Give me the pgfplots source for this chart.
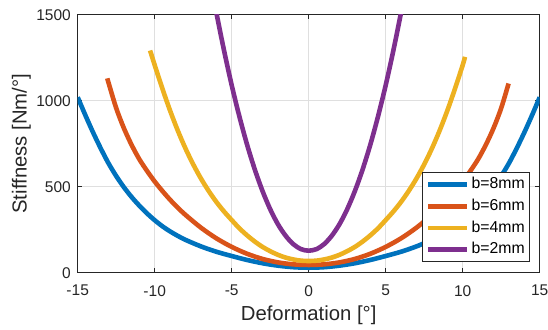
\documentclass[border=0pt]{standalone}
\usepackage{fontspec}
\setmainfont{Liberation Sans}
\usepackage{pgfplots}
\pgfplotsset{compat=1.18}
\definecolor{mblue}{rgb}{0,0.447,0.741}
\definecolor{morange}{rgb}{0.85,0.325,0.098}
\definecolor{myellow}{rgb}{0.929,0.694,0.125}
\definecolor{mpurple}{rgb}{0.494,0.184,0.556}
\definecolor{axgray}{rgb}{0.15,0.15,0.15}
\definecolor{gridgray}{rgb}{0.875,0.875,0.875}
\begin{document}
\begin{tikzpicture}
\begin{axis}[
  name=ax,
  scale only axis,
  width=462pt, height=258pt,
  xmin=-15, xmax=15, ymin=0, ymax=1500,
  xtick={-15,-10,-5,0,5,10,15},
  xticklabels={-15,-10,-5,0,5,10,15},
  ytick={0,500,1000,1500},
  yticklabels={0,500,1000,1500},
  tick align=inside,
  major tick length=4.6pt,
  grid=major,
  major grid style={gridgray, line width=0.6pt},
  axis line style={axgray, line width=0.6pt},
  every tick/.style={axgray, line width=0.6pt},
  tick label style={font=\fontsize{15.5}{18}\selectfont, text=axgray},
  xticklabel style={inner sep=0pt, anchor=north, yshift=-12.3pt},
  yticklabel style={inner sep=0pt, anchor=east, xshift=-6.7pt},
  xlabel={Deformation [°]},
  ylabel={Stiffness [Nm/°]},
  label style={font=\fontsize{20.3}{24}\selectfont, text=axgray, inner sep=0pt},
  xlabel style={at={(axis description cs:0.5,-0.1872)}, anchor=base},
  ylabel style={at={(axis description cs:-0.1108,0.5)}, anchor=base},
  legend style={at={(0.979,0.0415)}, anchor=south east, draw=axgray, line width=0.6pt, fill=white,
    inner xsep=3pt, inner ysep=2.6pt, font=\fontsize{15.8}{19}\selectfont, text=black,
    row sep=3pt, nodes={inner sep=2pt, text height=11.5pt, text depth=3.2pt},
    /tikz/every even column/.append style={column sep=0pt}},
  legend cell align=left,
  legend image code/.code={\draw[#1, line width=4.8pt] (0pt,0pt) -- (39pt,0pt);},
]
\addplot[mblue, line width=4.6pt, smooth, line join=round] coordinates {
(-15,1020) (-14.5,915) (-14,815) (-13.5,722) (-13,636) (-12.5,562) (-12,497) (-11.5,440) (-11,390) (-10.5,345)
(-10,305) (-9.5,270) (-9,240) (-8.5,214) (-8,191) (-7,153) (-6,122) (-5,97) (-4,74) (-3,55) (-2,41) (-1,32) (0,29)
(1,32) (2,41) (3,55) (4,74) (5,97) (6,122) (7,153) (8,191) (8.5,214) (9,240) (9.5,270) (10,305)
(10.5,345) (11,390) (11.5,440) (12,497) (12.5,562) (13,636) (13.5,722) (14,815) (14.5,915) (15,1020)};
\addlegendentry{b=8mm}
\addplot[morange, line width=4.6pt, smooth, line join=round] coordinates {
(-13.08,1130) (-13,1105) (-12.5,957) (-12,840) (-11.5,743) (-11,660) (-10.5,592) (-10,530) (-9.5,475) (-9,424)
(-8.5,378) (-8,336) (-7,262) (-6,200) (-5,150) (-4,110) (-3,80) (-2,60) (-1,48.5) (0,45)
(1,48.5) (2,60) (3,80) (4,110) (5,150) (6,200) (7,262) (8,336) (8.5,378) (9,424)
(9.5,475) (10,530) (10.5,592) (11,660) (11.5,743) (12,840) (12.5,957) (12.98,1100)};
\addlegendentry{b=6mm}
\addplot[myellow, line width=4.6pt, smooth, line join=round] coordinates {
(-10.3,1292) (-10,1207) (-9.5,1070) (-9,942) (-8.5,826) (-8,722) (-7.5,630) (-7,548) (-6.5,476) (-6,412)
(-5.5,356) (-5,306) (-4.5,258) (-4,217) (-3.5,181) (-3,150) (-2.5,125) (-2,104) (-1.5,88) (-1,77) (-0.5,70) (0,68)
(0.5,70) (1,77) (1.5,88) (2,104) (2.5,125) (3,150) (3.5,181) (4,217) (4.5,258) (5,306) (5.5,356)
(6,412) (6.5,476) (7,548) (7.5,630) (8,722) (8.5,826) (9,942) (9.5,1070) (10,1207) (10.15,1255)};
\addlegendentry{b=4mm}
\addplot[mpurple, line width=4.6pt, smooth, line join=round] coordinates {
(-6.5,1755) (-6,1514) (-5.5,1293) (-5,1090) (-4.5,908) (-4,744) (-3.5,600) (-3,475) (-2.5,369) (-2,282)
(-1.5,215) (-1,166) (-0.5,137) (0,128) (0.5,137) (1,166) (1.5,215) (2,282) (2.5,369) (3,475)
(3.5,600) (4,744) (4.5,908) (5,1090) (5.5,1293) (6,1514) (6.5,1755)};
\addlegendentry{b=2mm}
\end{axis}
\pgfresetboundingbox
\path ([xshift=-77.7pt,yshift=-56.3pt]ax.south west) rectangle ([xshift=8.3pt,yshift=14.7pt]ax.north east);
\end{tikzpicture}
\end{document}
